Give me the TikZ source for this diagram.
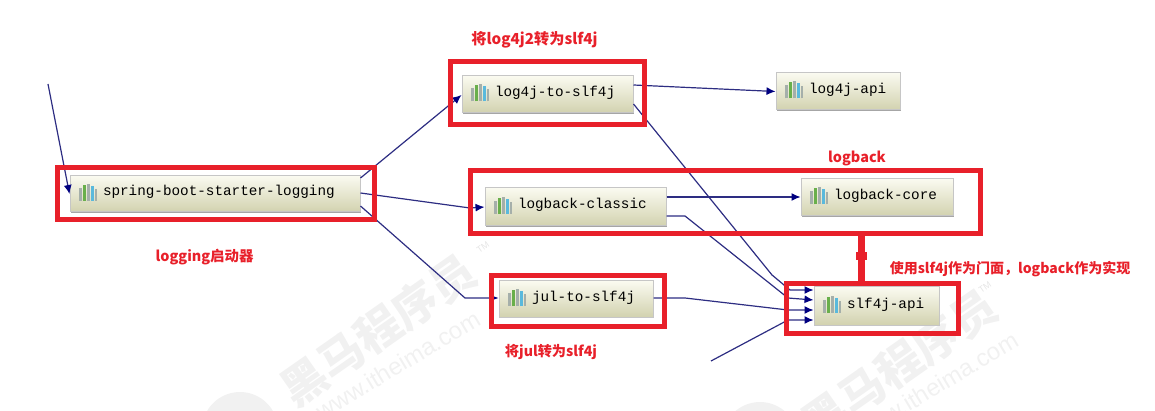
\documentclass[tikz,border=0pt]{standalone}
\usepackage{fontspec}
\usetikzlibrary{arrows.meta,shadows}
\setmonofont{Liberation Mono}
\newfontfamily\cjk{Noto Sans CJK SC}
\definecolor{linknavy}{RGB}{45,45,130}
\definecolor{headnavy}{RGB}{0,0,128}
\definecolor{framered}{RGB}{232,32,42}
\definecolor{boxtop}{RGB}{250,250,240}
\definecolor{boxbot}{RGB}{210,210,175}
\definecolor{bargray}{RGB}{165,175,170}
\definecolor{bargreen}{RGB}{105,175,75}
\definecolor{barblue}{RGB}{90,185,220}
\newcommand{\jaricon}{\raisebox{-5pt}{\textcolor{bargray}{\rule{3pt}{13pt}}\hspace{1pt}\textcolor{bargreen}{\rule{3pt}{16pt}}\hspace{1pt}\textcolor{bargray}{\rule{3pt}{17pt}}\hspace{1pt}\textcolor{barblue}{\rule{3pt}{15pt}}\hspace{1pt}\textcolor{bargray}{\rule{2pt}{12pt}}}\hspace{6pt}}
\newcommand{\jarlabel}[1]{\smash{\raisebox{-2pt}{\jaricon #1}}}
\tikzset{
    jarbox/.style={draw=gray!45, line width=1pt, top color=boxtop, bottom color=boxbot, inner sep=0pt, inner xsep=9pt, align=left, anchor=center, minimum height=#1, font=\ttfamily\fontsize{14.3}{16}\selectfont, drop shadow={shadow xshift=1pt, shadow yshift=-1pt, fill=gray!70, opacity=1}},
    link/.style={draw=linknavy, line width=1.2pt},
    linkto/.style={link, -{Latex[length=9pt,width=8pt,color=headnavy]}},
    redframe/.style={draw=framered, line width=5pt, inner sep=0pt},
    redtext/.style={text=framered, font=\cjk\bfseries\fontsize{#1}{16}\selectfont},
    wmark/.style={text=gray!11, rotate=35, font=\cjk\bfseries\fontsize{45}{48}\selectfont},
    wsite/.style={text=gray!11, rotate=31, font=\fontspec{Liberation Sans}\fontsize{24}{26}\selectfont},
    wtm/.style={text=gray!20, rotate=35, font=\fontspec{Liberation Sans}\fontsize{9}{10}\selectfont}
}
\begin{document}
\begin{tikzpicture}[x=1pt, y=-1pt]
    \useasboundingbox (0,0) rectangle (1155,411);
    % watermarks
    \fill[gray!11] (240,430) circle (38);
    \fill[gray!11] (760,440) circle (38);
    \node[wmark] (mark1) at (378,330) {黑马程序员};
    \node[wsite] (site1) at (398,365) {www.itheima.com};
    \node[wtm] (tm1) at (483,247) {TM};
    \node[wmark] (mark2) at (899,365) {黑马程序员};
    \node[wsite] (site2) at (936,386) {www.itheima.com};
    \node[wtm] (tm2) at (985,287) {TM};
    % jar boxes
    \node[jarbox=36pt, text width=272pt] (starter) at (215,194) {\jarlabel{spring-boot-starter-logging}};
    \node[jarbox=37pt, text width=153pt] (tolog) at (547.5,94.5) {\jarlabel{log4j-to-slf4j}};
    \node[jarbox=37pt, text width=106pt] (logapi) at (838,91.5) {\jarlabel{log4j-api}};
    \node[jarbox=38pt, text width=163pt] (classic) at (575.5,207) {\jarlabel{logback-classic}};
    \node[jarbox=37pt, text width=134pt] (core) at (877,197.5) {\jarlabel{logback-core}};
    \node[jarbox=36pt, text width=136pt] (jul) at (576,299) {\jarlabel{jul-to-slf4j}};
    \node[jarbox=38pt, text width=107pt] (slfapi) at (876.5,306) {\jarlabel{slf4j-api}};
    % free ends
    \coordinate (topin) at (48,84);
    \coordinate (botin) at (711,361);
    % connectors
    \draw[linkto] (topin) -- (starter.west);
    \draw[linkto] (starter.east |- 0,178) -- (tolog.west |- 0,95);
    \draw[linkto] (starter.east |- 0,193) -- (470,208) -- (classic.west);
    \draw[linkto] (starter.east |- 0,206) -- (465,298) -- (jul.west |- 0,298);
    \draw[linkto] (tolog.east |- 0,85) -- (logapi.west);
    \draw[linkto] (classic.east |- 0,197) -- (core.west |- 0,197);
    \draw[linkto] (tolog.east |- 0,104) -- (772,275) -- (790,290) -- (slfapi.west |- 0,290);
    \draw[linkto] (classic.east |- 0,216) -- (685,216) -- (788,298) -- (slfapi.west |- 0,300);
    \draw[linkto] (jul.east |- 0,298) -- (685,298) -- (788,310) -- (slfapi.west |- 0,310);
    \draw[linkto] (botin) -- (788,320) -- (slfapi.west |- 0,320);
    % red frames
    \node[redframe, minimum width=317pt, minimum height=52pt] (frstarter) at (216,194) {};
    \node[redframe, minimum width=194pt, minimum height=63pt] (frtolog) at (547.5,93) {};
    \node[redframe, minimum width=510pt, minimum height=63pt] (frback) at (725.5,202) {};
    \node[redframe, minimum width=173pt, minimum height=51pt] (frjul) at (578,301) {};
    \node[redframe, minimum width=172pt, minimum height=50pt] (frslf) at (872.5,308.5) {};
    \draw[line width=7pt, draw=framered] (861,0 |- frslf.north) -- (861,0 |- frback.south);
    \draw[line width=11pt, draw=framered] (861,260) -- (861,252);
    % red labels
    \node[redtext=14.4] (lbstarter) at (204.5,257) {logging启动器};
    \node[redtext=15.2] (lbtolog) at (534.5,40) {将log4j2转为slf4j};
    \node[redtext=14.4] (lbback) at (857,158) {logback};
    \node[redtext=14.2] (lbjul) at (551,352) {将jul转为slf4j};
    \node[redtext=14] (lbslf) at (1010,269) {使用slf4j作为门面，logback作为实现};
\end{tikzpicture}
\end{document}
